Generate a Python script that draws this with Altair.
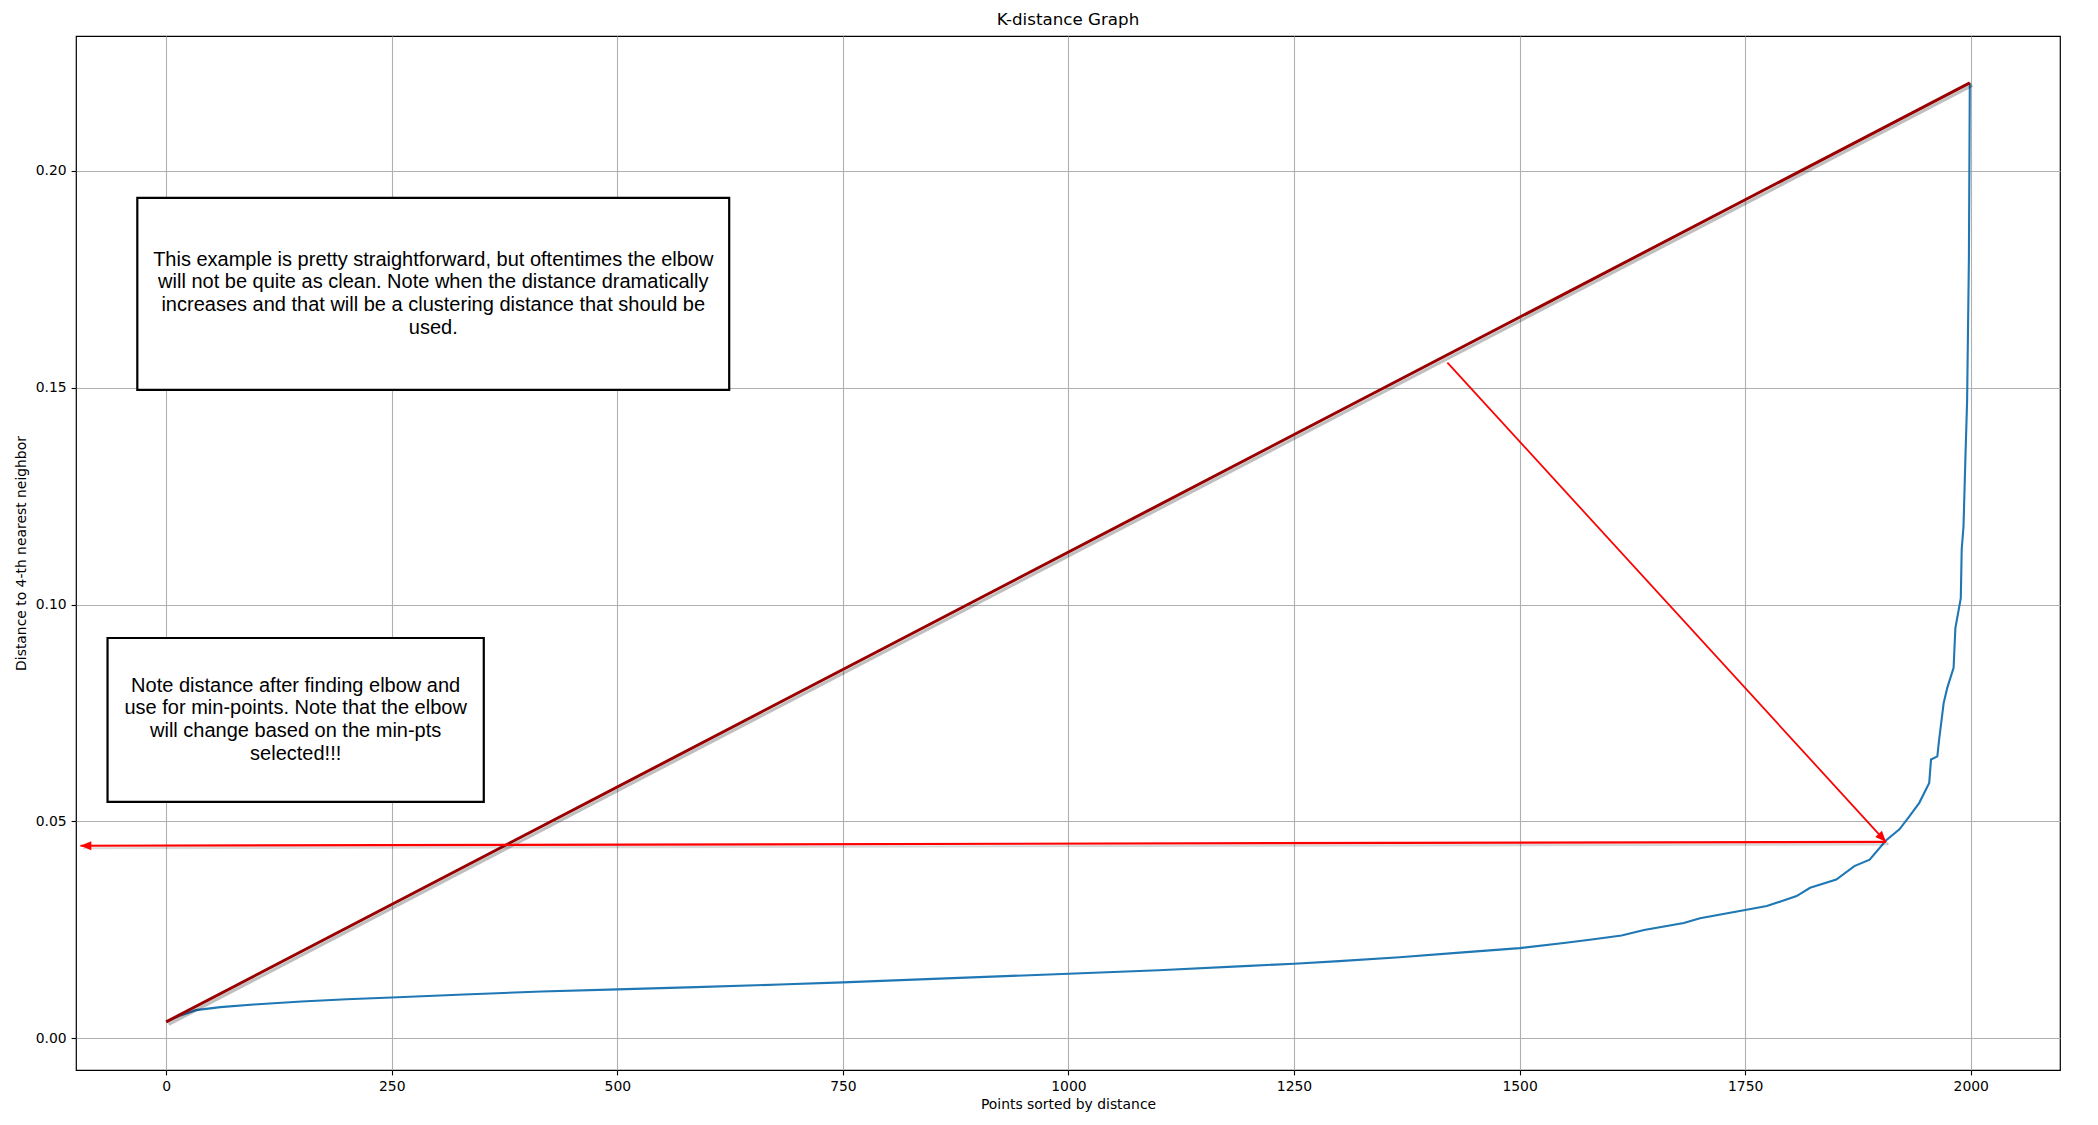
import math
import altair as alt
import pandas as pd

# ---- data ----
point_index = [0, 15, 33, 60, 97, 150, 200, 250, 330, 416, 500, 587, 680, 750,
               850, 950, 1000, 1100, 1200, 1250, 1300, 1367, 1430, 1500, 1549,
               1580, 1613, 1638, 1682, 1700, 1750, 1774, 1807, 1822, 1851, 1871,
               1888, 1906, 1921, 1932, 1943, 1954, 1956, 1963, 1965, 1970, 1974,
               1981, 1983, 1989, 1990, 1992, 1994, 1996, 1998, 1999]
k_distance = [0.0038, 0.0052, 0.0065, 0.0072, 0.0078, 0.0085, 0.0090, 0.0094,
              0.0101, 0.0108, 0.0113, 0.0118, 0.0124, 0.0129, 0.0137, 0.0145,
              0.0149, 0.0157, 0.0167, 0.0172, 0.0178, 0.0187, 0.0197, 0.0208,
              0.0220, 0.0228, 0.0237, 0.0250, 0.0266, 0.0277, 0.0296, 0.0305,
              0.0328, 0.0347, 0.0366, 0.0397, 0.0412, 0.0456, 0.0482, 0.0512,
              0.0543, 0.0589, 0.0643, 0.0650, 0.0689, 0.0773, 0.0808, 0.0854,
              0.0946, 0.1015, 0.1127, 0.1180, 0.1330, 0.1470, 0.1800, 0.2203]

x_tick_values = [0, 250, 500, 750, 1000, 1250, 1500, 1750, 2000]
y_tick_values = [0.00, 0.05, 0.10, 0.15, 0.20]

# annotation anchors (data coordinates)
arrow1_start = (1420, 0.1558)
arrow1_end = (1906, 0.0453)
arrow2_start = (1906, 0.0453)
arrow2_end = (-95, 0.0444)

box1 = {"x": -32, "x2": 624, "y": 0.1495, "y2": 0.1938}
box2 = {"x": -65, "x2": 352, "y": 0.0545, "y2": 0.0923}
text1 = ("This example is pretty straightforward, but oftentimes the elbow\n"
         "will not be quite as clean. Note when the distance dramatically\n"
         "increases and that will be a clustering distance that should be\n"
         "used.")
text2 = ("Note distance after finding elbow and\n"
         "use for min-points. Note that the elbow\n"
         "will change based on the min-pts\n"
         "selected!!!")
text1_pos = (296, 0.1717)
text2_pos = (143.5, 0.0735)

# ---- layout ----
X_DOMAIN = [-99.95, 2098.95]
Y_DOMAIN = [-0.0073, 0.2311]
W, H = 1984, 1034
LINE_H = 22.7

xs = alt.Scale(domain=X_DOMAIN, nice=False, zero=False)
ys = alt.Scale(domain=Y_DOMAIN, nice=False, zero=False)
x_axis = alt.Axis(values=x_tick_values, format="d",
                  title="Points sorted by distance", grid=True)
y_axis = alt.Axis(values=y_tick_values, format=".2f",
                  title="Distance to 4-th nearest neighbor", grid=True)


def X(field="x"):
    return alt.X(f"{field}:Q", scale=xs, axis=x_axis)


def Y(field="y"):
    return alt.Y(f"{field}:Q", scale=ys, axis=y_axis)


curve = pd.DataFrame({"x": point_index, "y": k_distance})
line = alt.Chart(curve).mark_line(color="#1f77b4", strokeWidth=2.1).encode(x=X(), y=Y())

diag = pd.DataFrame({"x": [point_index[0], point_index[-1]],
                     "y": [k_distance[0], k_distance[-1]]})
diag_shadow = alt.Chart(diag).mark_line(
    color="black", opacity=0.25, strokeWidth=3.2, xOffset=2.5, yOffset=2.5
).encode(x=X(), y=Y())
diag_line = alt.Chart(diag).mark_line(color="#990000", strokeWidth=3).encode(x=X(), y=Y())

arrows = pd.DataFrame({
    "x": [arrow1_start[0], arrow2_start[0]],
    "y": [arrow1_start[1], arrow2_start[1]],
    "x2": [arrow1_end[0], arrow2_end[0]],
    "y2": [arrow1_end[1], arrow2_end[1]],
    "w": [1.7, 2.2],
})


def px_angle(start, end):
    sx = W / (X_DOMAIN[1] - X_DOMAIN[0])
    sy = H / (Y_DOMAIN[1] - Y_DOMAIN[0])
    dx = (end[0] - start[0]) * sx
    dy = -(end[1] - start[1]) * sy  # down positive
    return (math.degrees(math.atan2(dx, -dy))) % 360


heads = pd.DataFrame({
    "x": [arrow1_end[0], arrow2_end[0]],
    "y": [arrow1_end[1], arrow2_end[1]],
    "angle": [px_angle(arrow1_start, arrow1_end), px_angle(arrow2_start, arrow2_end)],
})

arrow_shadow = alt.Chart(arrows).mark_rule(
    color="black", opacity=0.15, xOffset=2.5, yOffset=2.5, x2Offset=2.5, y2Offset=2.5
).encode(x=X(), y=Y(), x2="x2:Q", y2="y2:Q",
         strokeWidth=alt.StrokeWidth("w:Q", scale=None))
arrow_lines = alt.Chart(arrows).mark_rule(color="#ff0000").encode(
    x=X(), y=Y(), x2="x2:Q", y2="y2:Q",
    strokeWidth=alt.StrokeWidth("w:Q", scale=None))
arrow_heads = alt.Chart(heads).mark_point(
    shape="M0,0 L-0.42,1 L0.42,1 Z", filled=True, color="#ff0000",
    size=470, opacity=1
).encode(x=X(), y=Y(), angle=alt.Angle("angle:Q", scale=None))

boxes = pd.DataFrame([box1, box2])
box_rects = alt.Chart(boxes).mark_rect(
    fill="white", stroke="black", strokeWidth=2.2
).encode(x=X(), x2="x2:Q", y=Y(), y2="y2:Q")

texts = pd.DataFrame({
    "x": [text1_pos[0], text2_pos[0]],
    "y": [text1_pos[1], text2_pos[1]],
    "t": [text1, text2],
})
box_texts = alt.Chart(texts).mark_text(
    font="Liberation Sans", fontSize=20, lineHeight=LINE_H, lineBreak="\n",
    align="center", baseline="middle", color="black", dy=-1.5 * LINE_H
).encode(x=X(), y=Y(), text="t:N")

chart = alt.layer(
    line, diag_shadow, diag_line, arrow_shadow, arrow_lines, arrow_heads,
    box_rects, box_texts
).properties(
    width=W, height=H,
    title=alt.TitleParams("K-distance Graph", font="DejaVu Sans", fontSize=16.7,
                          fontWeight="normal", color="black", anchor="middle",
                          offset=7),
    autosize=alt.AutoSizeParams(type="none"),
    padding={"left": 68, "top": 28, "right": 30, "bottom": 47},
).configure_axis(
    labelFont="DejaVu Sans", labelFontSize=13.9, labelColor="black",
    titleFont="DejaVu Sans", titleFontSize=13.9, titleFontWeight="normal",
    titleColor="black", tickColor="black", tickSize=4.9, tickWidth=1.1,
    labelPadding=4.9, domain=False, gridColor="#b0b0b0", gridWidth=1.1,
).configure_axisX(titlePadding=4).configure_axisY(titlePadding=7).configure_view(
    stroke="black", strokeWidth=1.2
)

chart.save("out.html", embed_options={"renderer": "svg", "actions": False})
